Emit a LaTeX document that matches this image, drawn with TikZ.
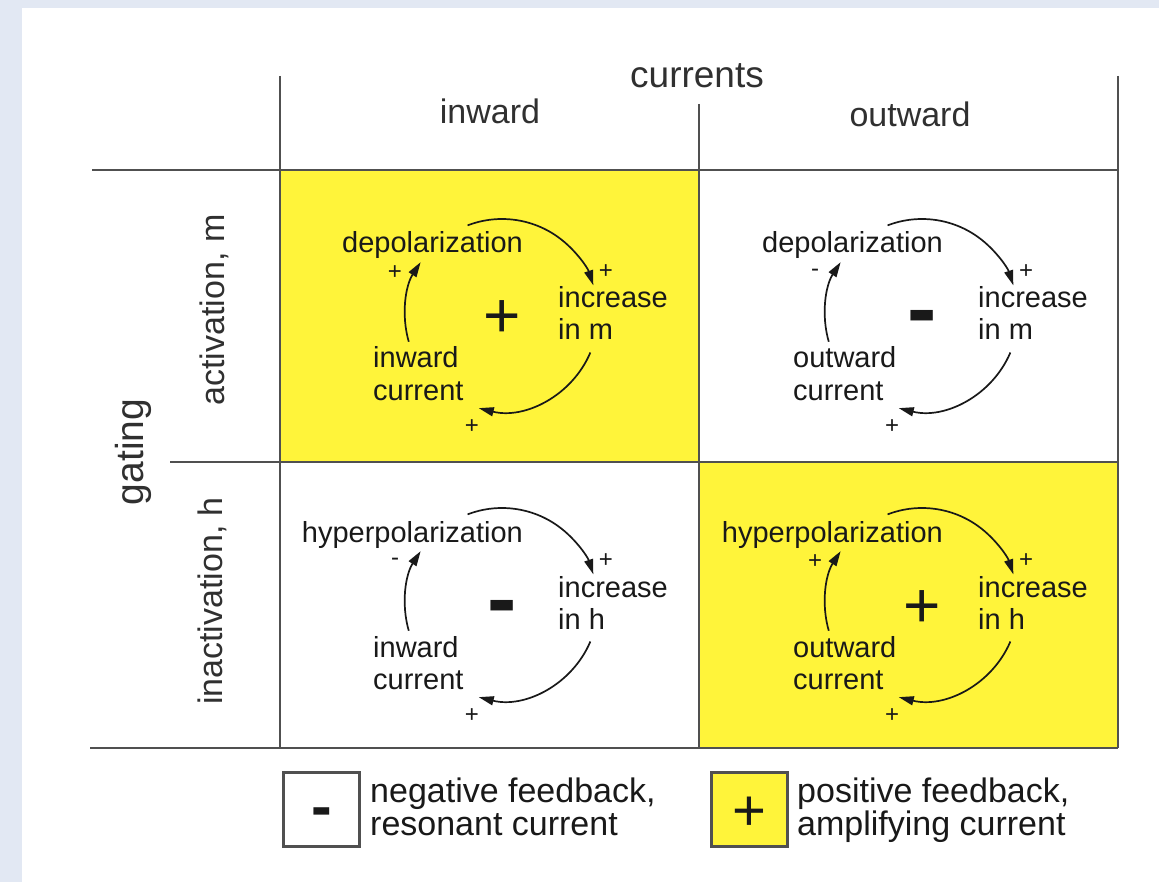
\documentclass[tikz,border=0pt]{standalone}
\usepackage{fontspec}
\setmainfont{Liberation Sans}
\usetikzlibrary{arrows.meta,calc}
\definecolor{bgblue}{RGB}{226,232,243}
\definecolor{fbyellow}{RGB}{255,244,58}
\definecolor{gridgray}{RGB}{80,80,80}
\definecolor{ink}{RGB}{25,25,25}
\tikzset{
  gridline/.style={draw=gridgray, line width=2pt},
  lbl/.style={inner sep=0pt, text=ink, font=\fontsize{29}{32}\selectfont},
  hdr/.style={inner sep=0pt, text=ink!90, font=\fontsize{34}{38}\selectfont},
  smallsign/.style={inner sep=0pt, text=ink, font=\fontsize{24}{24}\selectfont},
  loopline/.style={line width=1.7pt, draw=ink, -{Triangle[length=15pt,width=9pt]}},
  sgnplus/.style={inner sep=0pt, text=ink, anchor=base, yshift=-23pt, font=\fontsize{64}{64}\selectfont},
  sgnminus/.style={inner sep=0pt, text=ink, anchor=base, yshift=-24pt, font=\fontsize{88}{88}\selectfont\bfseries},
  legbox/.style={draw=gridgray, line width=3pt, minimum width=76pt, minimum height=74pt, inner sep=0pt},
  legtext/.style={inner sep=0pt, text=ink, font=\fontsize{34}{34}\selectfont},
}
% #1 ox, #2 oy, #3 prefix, #4 top text, #5 sign at left arrow, #6 gating variable,
% #7 current direction, #8 big sign text, #9 big sign style
\newcommand\fbcell[9]{%
  \coordinate (#3c) at (#1+222,#2+145);
  \node[lbl, anchor=base east] (#3top) at (#1+243,#2+83) {#4};
  \node[lbl, anchor=base west] (#3inc) at (#1+278,#2+138) {increase};
  \node[lbl, anchor=base west] (#3var) at (#1+278,#2+170) {in #6};
  \node[lbl, anchor=base west] (#3cur) at (#1+93,#2+198) {#7};
  \node[lbl, anchor=base west] (#3curb) at (#1+93,#2+230) {current};
  \node[smallsign] (#3sa) at (#1+326,#2+102) {+};
  \node[smallsign] (#3sb) at (#1+192,#2+257) {+};
  \node[smallsign] (#3sc) at (#1+115,#2+103) {#5};
  \node[sgn#9] (#3sign) at (#3c) {#8};
  \draw[loopline] ($(#3c)+(-111:96)$) arc[start angle=-111, end angle=-18, radius=96];
  \draw[loopline] ($(#3c)+(23:96)$) arc[start angle=23, end angle=104, radius=96];
  \draw[loopline] ($(#3c)+(164:97)$) arc[start angle=164, end angle=213, radius=97];
}
\begin{document}
\begin{tikzpicture}[x=1pt, y=-1pt]
  \useasboundingbox (0,0) rectangle (1159,882);
  \fill[bgblue] (0,0) rectangle (1159,882);
  \fill[white] (22,8) rectangle (1159,882);
  % yellow cells
  \fill[fbyellow] (280,170) rectangle (699,462);
  \fill[fbyellow] (699,462) rectangle (1118,748);
  % grid
  \draw[gridline] (280,76) -- (280,748);
  \draw[gridline] (699,104) -- (699,748);
  \draw[gridline] (1118,76) -- (1118,748);
  \draw[gridline] (92,170) -- (1118,170);
  \draw[gridline] (170,462) -- (1118,462);
  \draw[gridline] (90,748) -- (1118,748);
  % headers
  \node[hdr, font=\fontsize{37}{40}\selectfont, anchor=base] (currents) at (697,88) {currents};
  \node[hdr, anchor=base] (inwardh) at (490,124) {inward};
  \node[hdr, anchor=base] (outwardh) at (910,127) {outward};
  \node[hdr, font=\fontsize{39}{42}\selectfont, rotate=90] (gating) at (133,452) {gating};
  \node[hdr, rotate=90] (actm) at (214,310) {activation, m};
  \node[hdr, rotate=90] (inacth) at (212,601) {inactivation, h};
  % cells
  \fbcell{280}{170}{tl}{depolarization}{+}{m}{inward}{+}{plus}
  \fbcell{700}{170}{tr}{depolarization}{-}{m}{outward}{-}{minus}
  \fbcell{280}{459}{bl}{hyperpolarization}{-}{h}{inward}{-}{minus}
  \fbcell{700}{459}{br}{hyperpolarization}{+}{h}{outward}{+}{plus}
  % legend
  \node[legbox, fill=white] (negbox) at (321.5,809.5) {};
  \node[sgnminus, font=\fontsize{62}{62}\selectfont\bfseries, yshift=6pt] (negsign) at (negbox.center) {-};
  \node[legtext, anchor=base west] (neg1) at (370,802) {negative feedback,};
  \node[legtext, anchor=base west] (neg2) at (370,835) {resonant current};
  \node[legbox, fill=fbyellow] (posbox) at (749,809.5) {};
  \node[sgnplus, font=\fontsize{58}{58}\selectfont, yshift=2pt] (possign) at (posbox.center) {+};
  \node[legtext, anchor=base west] (pos1) at (797,802) {positive feedback,};
  \node[legtext, anchor=base west] (pos2) at (797,835) {amplifying current};
\end{tikzpicture}
\end{document}
